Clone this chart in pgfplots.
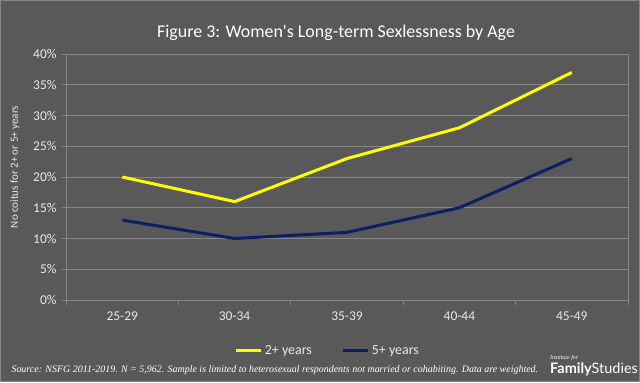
\documentclass[border=0pt]{standalone}
\usepackage{pgfplots}
\pgfplotsset{compat=1.18}
\usepackage{fontspec}
\setmainfont{Carlito}[Ligatures=TeXOff]
\newfontfamily\srcfont{Liberation Serif}
\newfontfamily\logofont{Lato}
\definecolor{bg}{HTML}{595959}
\definecolor{gridc}{HTML}{868686}
\definecolor{txt}{HTML}{E8E8E8}
\definecolor{yel}{HTML}{FFFF00}
\definecolor{navy}{HTML}{0B1F62}
\begin{document}
\begin{tikzpicture}[x=1bp,y=1bp]
\fill[bg] (0,0) rectangle (640,382);
\draw[gridc, line width=1bp] (0.5,0.5) rectangle (639.5,381.5);
\useasboundingbox (0,0) rectangle (640,382);
\node[anchor=base, text=white, font=\fontsize{18}{20}\selectfont] at (336,344.4) {Figure 3: Women's Long-term Sexlessness by Age};
\node[rotate=90, text=txt, font=\fontsize{11}{13}\selectfont] at (15,215) {No coitus for 2+ or 5+ years};
\begin{axis}[
  at={(66bp,82bp)}, anchor=south west,
  scale only axis, width=562bp, height=246bp,
  xmin=-0.5, xmax=4.5, ymin=0, ymax=40,
  xtick={0,1,2,3,4}, xticklabels={25-29,30-34,35-39,40-44,45-49},
  minor xtick={-0.5,0.5,1.5,2.5,3.5,4.5},
  ytick={0,5,...,40},
  yticklabel={\pgfmathprintnumber{\tick}\%},
  xtick pos=lower, ytick pos=left,
  major x tick style={draw=none},
  minor x tick style={gridc, line width=1bp},
  y tick style={gridc, line width=1bp},
  tick align=outside, major tick length=4bp, minor tick length=5bp,
  ymajorgrids, grid style={gridc, line width=1bp},
  axis line style={gridc, line width=1bp},
  ticklabel style={font=\fontsize{13.5}{15}\selectfont, text=txt},
  xticklabel style={yshift=-4bp},
  yticklabel style={xshift=-2bp},
  /pgf/number format/assume math mode=true,
  legend style={at={(0.466,-0.207)}, anchor=center, draw=none, fill=none,
    legend columns=2, text=txt, font=\fontsize{14}{16}\selectfont,
    /tikz/every even column/.append style={column sep=28bp}},
  legend image code/.code={\draw[#1, line width=3bp] (0bp,0bp) -- (25bp,0bp);},
]
\addplot[yel, line width=3bp] coordinates {(0,20) (1,16) (2,23) (3,28) (4,37)};
\addlegendentry{2+ years}
\addplot[navy, line width=3bp] coordinates {(0,13) (1,10) (2,11) (3,15) (4,23)};
\addlegendentry{5+ years}
\end{axis}
\node[anchor=base west, text=white, font=\srcfont\itshape\fontsize{10}{12}\selectfont] at (8,10) {Source: NSFG 2011-2019. N = 5,962. Sample is limited to heterosexual respondents not married or cohabiting. Data are weighted.};
\node[anchor=base west, inner sep=0, text=white, font=\srcfont\itshape\fontsize{6}{7}\selectfont] at (550,23) {Institute for};
\node[anchor=base west, inner sep=0, text=white] at (550,9) {{\logofont\bfseries\fontsize{14.5}{16}\selectfont Family}{\logofont\fontsize{14.5}{16}\selectfont Studies}};
\end{tikzpicture}
\end{document}
